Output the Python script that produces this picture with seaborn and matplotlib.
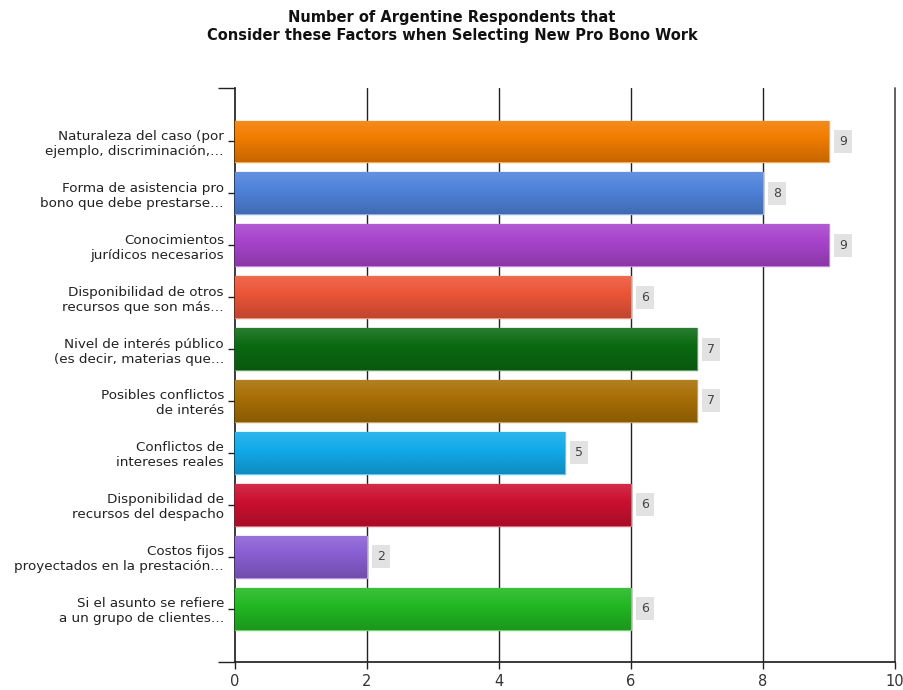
import numpy as np
import pandas as pd
import matplotlib
matplotlib.use("Agg")
import matplotlib.pyplot as plt
import matplotlib.colors as mcolors
import seaborn as sns

# Chart data
factors = [
    "Naturaleza del caso (por\nejemplo, discriminación,…",
    "Forma de asistencia pro\nbono que debe prestarse…",
    "Conocimientos\njurídicos necesarios",
    "Disponibilidad de otros\nrecursos que son más…",
    "Nivel de interés público\n(es decir, materias que…",
    "Posibles conflictos\nde interés",
    "Conflictos de\nintereses reales",
    "Disponibilidad de\nrecursos del despacho",
    "Costos fijos\nproyectados en la prestación…",
    "Si el asunto se refiere\na un grupo de clientes…",
]
respondents = [9, 8, 9, 6, 7, 7, 5, 6, 2, 6]
bar_colors = ["#F27D00", "#4F83DB", "#A844CC", "#EC5538", "#0B6B12",
              "#A86F05", "#12ABEB", "#CC1030", "#8A5FD3", "#22B822"]
x_ticks = [0, 2, 4, 6, 8, 10]

title = ("Number of Argentine Respondents that\n"
         "Consider these Factors when Selecting New Pro Bono Work")

sns.set_theme(style="white")
plt.rcParams["font.family"] = ["DejaVu Sans"]

df = pd.DataFrame({"factor": factors, "count": respondents})

fig = plt.figure(figsize=(9.04, 6.90), dpi=100)
ax = fig.add_axes([0.26, 0.041, 0.730, 0.831])

sns.barplot(data=df, y="factor", x="count", hue="factor", palette=bar_colors,
            legend=False, width=0.8, orient="h", ax=ax, zorder=3)


def shade(c, f):
    rgb = np.array(mcolors.to_rgb(c))
    if f >= 0:
        return rgb + (1 - rgb) * f
    return rgb * (1 + f)


# vertical gradient on every bar
for patch, col in zip(ax.patches, bar_colors):
    x0, y0 = patch.get_x(), patch.get_y()
    w, h = patch.get_width(), patch.get_height()
    t = np.linspace(0, 1, 64)
    grad = np.array([shade(col, 0.12 - 0.30 * v) for v in t]).reshape(-1, 1, 3)
    im = ax.imshow(grad, extent=[x0, x0 + w, y0 + h, y0], aspect="auto",
                   zorder=4, interpolation="bilinear")
    im.set_clip_path(patch)
    patch.set_edgecolor(shade(col, 0.35))
    patch.set_linewidth(1.0)

# value labels
for i, v in enumerate(respondents):
    ax.text(v + 0.15, i, str(v), va="center", ha="left", fontsize=9,
            color="#444444", zorder=6,
            bbox=dict(boxstyle="square,pad=0.4", fc="#E2E2E2", ec="none"))

ax.set_xlim(0, 10)
ax.set_ylim(10.02, -1.02)
ax.set_xticks(x_ticks)
ax.set_xticklabels([str(t) for t in x_ticks], fontsize=10.5, color="#333333")
ax.set_yticks(range(len(factors)))
ax.set_yticklabels(factors, fontsize=9.7, color="#222222", linespacing=1.2)
ax.set_xlabel("")
ax.set_ylabel("")

for x in x_ticks[1:-1]:
    ax.axvline(x, color="#222222", lw=1.0, zorder=1)
ax.axvline(10, color="#555555", lw=1.3, zorder=1, clip_on=False)

for side in ["top", "right"]:
    ax.spines[side].set_visible(False)
ax.spines["left"].set_color("#222222")
ax.spines["bottom"].set_color("#222222")
ax.tick_params(axis="y", length=5, width=1, color="#222222", direction="out", left=True, pad=3)
ax.tick_params(axis="x", length=5, width=1, color="#222222", direction="out", bottom=True, pad=4)
ax.set_yticks([-1.02, 10.02], minor=True)
ax.tick_params(axis="y", which="minor", length=12, width=1, color="#222222", left=True)

fig.suptitle(title, fontsize=10.5, fontweight="bold", y=0.985, x=0.5, color="#111111")

fig.savefig("out.png", dpi=100, facecolor="white")
